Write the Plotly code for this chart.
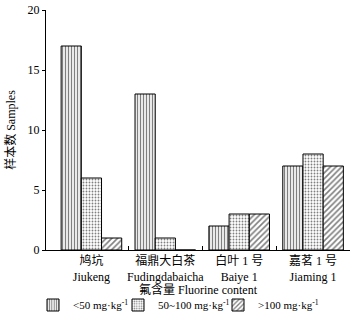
import plotly.graph_objects as go

categories = ["鸠坑<br>Jiukeng", "福鼎大白茶<br>Fudingdabaicha", "白叶 1 号<br>Baiye 1", "嘉茗 1 号<br>Jiaming 1"]
series_names = ["&lt;50 mg·kg<sup>-1</sup>", "50~100 mg·kg<sup>-1</sup>", "&gt;100 mg·kg<sup>-1</sup>"]
low_vals = [17, 13, 2, 7]
mid_vals = [6, 1, 3, 8]
high_vals = [1, 0, 3, 7]
y_ticks = [0, 5, 10, 15, 20]
x_title = "氟含量 Fluorine content"
y_title = "样本数 Samples"

FONT = "Liberation Serif, Times New Roman, Noto Sans CJK SC, serif"
x_pos = list(range(len(categories)))

fig = go.Figure()
patterns = [dict(shape="|", size=3, solidity=0.45),
            dict(shape=".", size=3, solidity=0.3),
            dict(shape="/", size=4, solidity=0.4)]
legend_ids = ["legend", "legend2", "legend3"]
for name, vals, pat, lg in zip(series_names, [low_vals, mid_vals, high_vals], patterns, legend_ids):
    fig.add_trace(go.Bar(
        x=x_pos, y=vals, name=name, legend=lg,
        marker=dict(color="white", line=dict(color="black", width=1),
                    pattern=dict(fgcolor="black", bgcolor="white", **pat)),
    ))

fig.add_trace(go.Scatter(x=[0.5, 3.5], y=[None, None], xaxis="x2", showlegend=False, hoverinfo="skip"))

legend_common = dict(orientation="h", xref="container", yref="container", xanchor="left",
                     y=1 - 305 / 320, yanchor="middle", font=dict(size=11), itemwidth=30,
                     bgcolor="rgba(0,0,0,0)")

fig.update_layout(
    width=356, height=320,
    margin=dict(l=46, r=6, t=10, b=70, autoexpand=False),
    paper_bgcolor="white", plot_bgcolor="white",
    barmode="group", bargap=0.18, bargroupgap=0,
    font=dict(family=FONT, size=12, color="black"),
    xaxis=dict(
        range=[-0.615, 3.5], tickvals=x_pos, ticktext=categories, automargin=False,
        showline=True, linecolor="black", linewidth=1, ticks="", showgrid=False,
        zeroline=False, tickfont=dict(size=12), tickangle=0,
    ),
    xaxis2=dict(
        range=[-0.615, 3.5], overlaying="x", anchor="y", side="bottom", automargin=False,
        tickvals=[0.5, 1.5, 2.5, 3.5], showticklabels=False,
        ticks="inside", ticklen=4, tickcolor="black", showgrid=False, zeroline=False,
        showline=False,
    ),
    yaxis=dict(
        range=[0, 20], tickvals=y_ticks, showline=True, linecolor="black", linewidth=1,
        ticks="outside", ticklen=3, tickcolor="black", showgrid=False, zeroline=False,
        tickfont=dict(size=12), automargin=False,
        title=dict(text=y_title, font=dict(size=12), standoff=9),
    ),
    annotations=[dict(text=x_title, xref="paper", x=0.5, xanchor="center",
                      yref="paper", y=-0.1625, yanchor="middle",
                      showarrow=False, font=dict(size=12))],
    legend=dict(x=33 / 356, **legend_common),
    legend2=dict(x=118 / 356, **legend_common),
    legend3=dict(x=218 / 356, **legend_common),
)

fig.write_html("out.html", config={"displayModeBar": False},
               post_script="document.body.style.margin='0';")
